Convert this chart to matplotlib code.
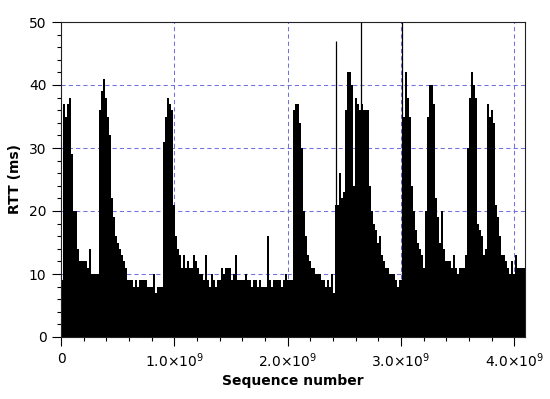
#!/usr/bin/python3
import numpy as np
import matplotlib
matplotlib.use('Agg')
import matplotlib.pyplot as plt
from matplotlib.ticker import MultipleLocator

# RTT per bin of sequence numbers (ms)
rtt_ms = [
	9, 37, 35, 37, 38, 29, 20, 20, 14, 12, 12, 12, 12, 11, 14, 10, 10, 10, 10, 36,
	39, 41, 38, 35, 32, 22, 19, 16, 15, 14, 13, 12, 11, 9, 9, 9, 8, 9, 8, 9,
	9, 9, 9, 8, 8, 8, 10, 7, 8, 8, 8, 31, 35, 38, 37, 36, 21, 16, 14, 13,
	11, 13, 11, 12, 11, 11, 13, 12, 11, 10, 10, 9, 13, 9, 8, 10, 9, 8, 9, 9,
	11, 10, 11, 11, 11, 9, 10, 13, 9, 9, 9, 9, 10, 9, 9, 8, 9, 9, 8, 9,
	8, 8, 8, 16, 9, 8, 9, 9, 9, 9, 8, 9, 10, 9, 9, 9, 36, 37, 37, 34,
	30, 20, 16, 13, 12, 11, 11, 10, 10, 10, 9, 9, 8, 9, 8, 10, 7, 21, 21, 26,
	22, 23, 36, 42, 42, 40, 24, 38, 37, 36, 37, 36, 36, 36, 24, 20, 18, 17, 15, 16,
	13, 12, 11, 11, 10, 10, 10, 9, 8, 9, 9, 35, 42, 38, 35, 24, 20, 17, 15, 14,
	13, 11, 20, 35, 40, 40, 37, 22, 19, 15, 20, 14, 12, 12, 12, 11, 13, 11, 10, 11,
	11, 11, 13, 30, 38, 42, 40, 38, 18, 17, 16, 13, 14, 37, 35, 36, 34, 21, 19, 16,
	13, 13, 12, 11, 10, 12, 10, 13, 11, 11, 11, 11,
]
bin_width = 17.65e6  # sequence numbers per bin

# isolated single-packet outliers
spike_seq = [2.427e9, 2.645e9, 3.012e9]
spike_rtt = [47, 60, 60]

x_ticks = [0, 1e9, 2e9, 3e9, 4e9]
x_tick_labels = ['0', r'$1.0{\times}10^{9}$', r'$2.0{\times}10^{9}$', r'$3.0{\times}10^{9}$', r'$4.0{\times}10^{9}$']
y_ticks = [0, 10, 20, 30, 40, 50]

edges = np.arange(len(rtt_ms) + 1) * bin_width

fig = plt.figure(figsize=(5.5, 3.99), dpi=100)
# axes box in whole pixels so the horizontal grid lines land on pixel rows
ax = fig.add_axes([61 / 550, 62 / 399, 464 / 550, 315 / 399])

# one filled step outline, so neighbouring bins leave no hairline gaps
ax.stairs(rtt_ms, edges, fill=True, color='black', linewidth=0)
ax.vlines(spike_seq, 0, spike_rtt, color='black', linewidth=0.9)

ax.set_xlim(0, edges[-1])
ax.set_ylim(0, 50)
ax.set_xticks(x_ticks)
ax.set_xticklabels(x_tick_labels)
ax.set_yticks(y_ticks)
ax.xaxis.set_minor_locator(MultipleLocator(0.2e9))
ax.yaxis.set_minor_locator(MultipleLocator(2))
ax.tick_params(which='major', direction='out', length=6.5, width=0.8, labelsize=10, colors='black', pad=4)
ax.tick_params(which='minor', direction='out', length=3.2, width=0.8)
ax.tick_params(top=False, right=False)

ax.set_axisbelow(True)
ax.grid(True, which='major', color='#7070e0', linestyle=(0, (4, 3)), linewidth=0.75)

for side in ax.spines.values():
	side.set_linewidth(0.8)
	side.set_color('#222222')

ax.set_xlabel('Sequence number', fontsize=10, fontweight='bold', labelpad=3)
ax.set_ylabel('RTT (ms)', fontsize=10, fontweight='bold', labelpad=5)

fig.savefig('out.png', dpi=100)
